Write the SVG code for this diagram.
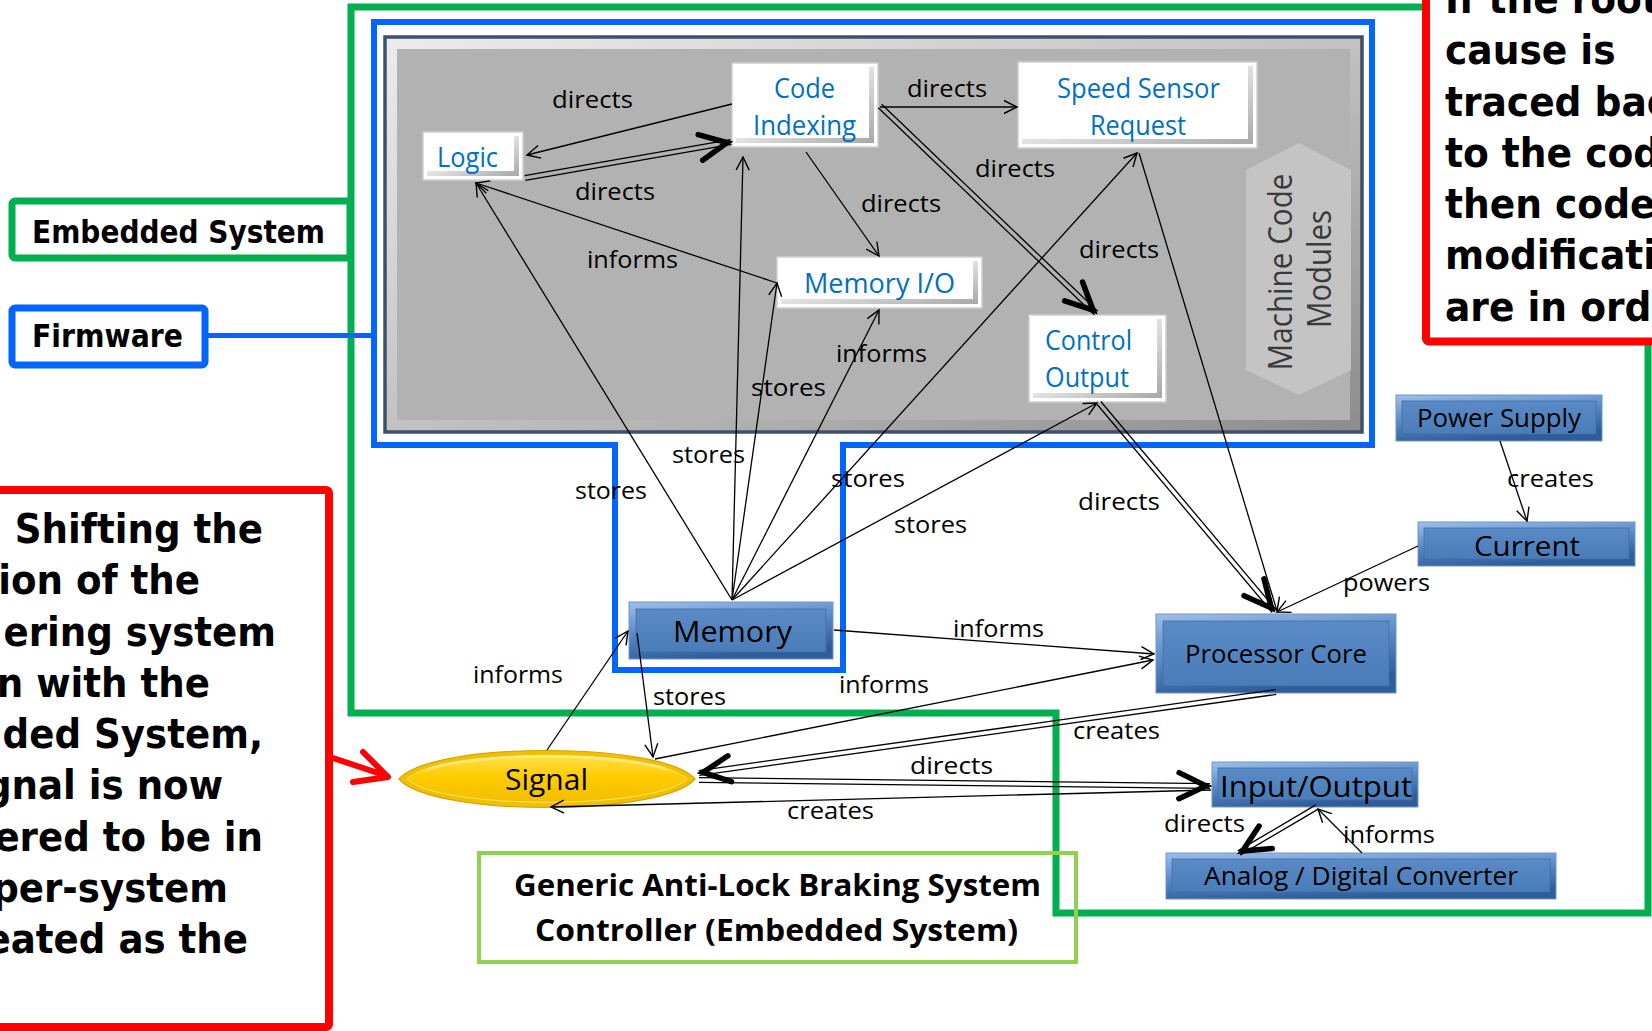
<svg xmlns="http://www.w3.org/2000/svg" width="1652" height="1031" viewBox="0 0 1652 1031">
<defs>
<style>
.lbl{font-family:'Open Sans',sans-serif;font-size:24px;fill:#000}
.wt{font-family:'Open Sans',sans-serif;font-size:27px;fill:#0070c0}
.bt{font-family:'Open Sans',sans-serif;fill:#000}
.ln{stroke:#000;stroke-width:1.3;fill:none}
.dl{stroke:#000;stroke-width:1.3;fill:none}
.axis{stroke:#000;stroke-opacity:0;fill:none}
.heavy{font-family:'DejaVu Sans',sans-serif;font-weight:bold;fill:#000}
.wframe{fill:#fff;stroke:#cfcfcf;stroke-width:1.5}
.bframe{fill:url(#bb);stroke:#7096c8;stroke-width:1}
.bface{fill:url(#bf);stroke:#416fa8;stroke-width:0.8}
</style>
<linearGradient id="wb" x1="0" y1="0" x2="1" y2="1">
<stop offset="0" stop-color="#ffffff"/><stop offset="0.4" stop-color="#ececec"/><stop offset="1" stop-color="#a8a8a8"/>
</linearGradient>
<linearGradient id="bb" x1="0" y1="0" x2="0.35" y2="1">
<stop offset="0" stop-color="#a0bfe8"/><stop offset="0.5" stop-color="#5b8bc8"/><stop offset="1" stop-color="#2f5d98"/>
</linearGradient>
<linearGradient id="bf" x1="0" y1="0" x2="0" y2="1">
<stop offset="0" stop-color="#5a8bc7"/><stop offset="1" stop-color="#4a7cb8"/>
</linearGradient>
<linearGradient id="pg" x1="0" y1="0" x2="1" y2="1">
<stop offset="0" stop-color="#ececec"/><stop offset="0.5" stop-color="#c2c2c2"/><stop offset="1" stop-color="#8c8c8c"/>
</linearGradient>
<linearGradient id="gold" x1="0" y1="0" x2="0" y2="1">
<stop offset="0" stop-color="#ffe04a"/><stop offset="0.45" stop-color="#ffcc00"/><stop offset="1" stop-color="#f2bd00"/>
</linearGradient>
<marker id="open" markerUnits="userSpaceOnUse" orient="auto" overflow="visible" markerWidth="1" markerHeight="1">
<path d="M-13,-6.5 L0,0 L-13,6.5" fill="none" stroke="#000" stroke-width="1.4"/>
</marker>
<marker id="bold" markerUnits="userSpaceOnUse" orient="auto" overflow="visible" markerWidth="1" markerHeight="1">
<path d="M-31,-13 L-4,0 L-31,13" fill="none" stroke="#000" stroke-width="5.5" stroke-linecap="round" stroke-linejoin="miter"/>
</marker>
</defs>

<rect x="0" y="0" width="1652" height="1031" fill="#fff"/>

<!-- system boundaries -->
<g id="embedded-system-boundary">
<polygon points="351,7 1648,7 1648,913 1056,913 1056,713 351,713" fill="none" stroke="#00b050" stroke-width="7"/>
<rect x="12" y="201" width="338" height="57" rx="3" fill="#fff" stroke="#00b050" stroke-width="7"/>
<text class="heavy" x="32" y="243" font-size="32" textLength="293" lengthAdjust="spacingAndGlyphs">Embedded System</text>
</g>

<g id="firmware-boundary">
<polygon points="374,22 1372,22 1372,445 843,445 843,670 615,670 615,445 374,445" fill="none" stroke="#0066ff" stroke-width="6"/>
<line x1="205" y1="335.5" x2="374" y2="335.5" stroke="#0066ff" stroke-width="5"/>
<rect x="12" y="308" width="193" height="57" rx="3" fill="#fff" stroke="#0066ff" stroke-width="7"/>
<text class="heavy" x="32" y="347" font-size="32" textLength="151" lengthAdjust="spacingAndGlyphs">Firmware</text>
</g>

<!-- machine code panel -->
<g id="machine-code-panel">
<rect x="385" y="37" width="977" height="395" fill="url(#pg)" stroke="#3f5169" stroke-width="3.5"/>
<rect x="397" y="49" width="953" height="371" fill="#b2b2b2"/>
<polygon points="1299,143 1351,170 1351,370 1299,395 1246,370 1246,170" fill="#c4c4c4"/>
<text class="bt" transform="translate(1292,272) rotate(-90)" text-anchor="middle" font-size="32" style="fill:#3a3a3a" textLength="197" lengthAdjust="spacingAndGlyphs">Machine Code</text>
<text class="bt" transform="translate(1331,269) rotate(-90)" text-anchor="middle" font-size="32" style="fill:#3a3a3a" textLength="118" lengthAdjust="spacingAndGlyphs">Modules</text>
</g>

<!-- white module nodes -->
<g id="logic">
<rect class="wframe" x="423" y="132" width="100" height="48"/>
<rect x="427" y="136" width="92" height="40" fill="url(#wb)"/>
<rect x="427" y="136" width="87" height="35" fill="#fff"/>
<text class="wt" x="437" y="167" textLength="61" lengthAdjust="spacingAndGlyphs">Logic</text>
</g>
<g id="code-indexing">
<rect class="wframe" x="732" y="63" width="146" height="84"/>
<rect x="736" y="67" width="138" height="76" fill="url(#wb)"/>
<rect x="736" y="67" width="133" height="71" fill="#fff"/>
<text class="wt" x="774" y="98" textLength="61" lengthAdjust="spacingAndGlyphs">Code</text>
<text class="wt" x="753" y="135" textLength="103" lengthAdjust="spacingAndGlyphs">Indexing</text>
</g>
<g id="speed-sensor-request">
<rect class="wframe" x="1018" y="62" width="239" height="86"/>
<rect x="1022" y="66" width="231" height="78" fill="url(#wb)"/>
<rect x="1022" y="66" width="226" height="73" fill="#fff"/>
<text class="wt" x="1057" y="98" textLength="163" lengthAdjust="spacingAndGlyphs">Speed Sensor</text>
<text class="wt" x="1090" y="135" textLength="96" lengthAdjust="spacingAndGlyphs">Request</text>
</g>
<g id="memory-io">
<rect class="wframe" x="777" y="257" width="205" height="51"/>
<rect x="781" y="261" width="197" height="43" fill="url(#wb)"/>
<rect x="781" y="261" width="192" height="38" fill="#fff"/>
<text class="wt" x="804" y="293" textLength="151" lengthAdjust="spacingAndGlyphs">Memory I/O</text>
</g>
<g id="control-output">
<rect class="wframe" x="1029" y="315" width="137" height="87"/>
<rect x="1033" y="319" width="129" height="79" fill="url(#wb)"/>
<rect x="1033" y="319" width="124" height="74" fill="#fff"/>
<text class="wt" x="1045" y="350" textLength="87" lengthAdjust="spacingAndGlyphs">Control</text>
<text class="wt" x="1045" y="387" textLength="84" lengthAdjust="spacingAndGlyphs">Output</text>
</g>

<!-- hardware nodes -->
<g id="memory">
<rect class="bframe" x="629" y="602" width="204" height="57"/>
<rect class="bface" x="636" y="609" width="190" height="43"/>
<text class="bt" x="673" y="642" font-size="30" textLength="119" lengthAdjust="spacingAndGlyphs">Memory</text>
</g>
<g id="processor-core">
<rect class="bframe" x="1156" y="614" width="240" height="79"/>
<rect class="bface" x="1163" y="621" width="226" height="65"/>
<text class="bt" x="1185" y="663" font-size="26" textLength="182" lengthAdjust="spacingAndGlyphs">Processor Core</text>
</g>
<g id="power-supply">
<rect class="bframe" x="1396" y="395" width="206" height="46"/>
<rect class="bface" x="1402" y="401" width="194" height="33"/>
<text class="bt" x="1417" y="427" font-size="25" textLength="164" lengthAdjust="spacingAndGlyphs">Power Supply</text>
</g>
<g id="current">
<rect class="bframe" x="1418" y="522" width="217" height="44"/>
<rect class="bface" x="1424" y="528" width="205" height="31"/>
<text class="bt" x="1474" y="556" font-size="28" textLength="106" lengthAdjust="spacingAndGlyphs">Current</text>
</g>
<g id="input-output">
<rect class="bframe" x="1212" y="762" width="206" height="45"/>
<rect class="bface" x="1218" y="768" width="194" height="32"/>
<text class="bt" x="1220" y="797" font-size="29" textLength="192" lengthAdjust="spacingAndGlyphs">Input/Output</text>
</g>
<g id="ad-converter">
<rect class="bframe" x="1166" y="853" width="390" height="46"/>
<rect class="bface" x="1172" y="859" width="378" height="33"/>
<text class="bt" x="1204" y="885" font-size="25" textLength="314" lengthAdjust="spacingAndGlyphs">Analog / Digital Converter</text>
</g>
<g id="signal">
<path d="M399,779 C432,741 662,741 695,779 C662,817 432,817 399,779 Z" fill="#f0bf00" stroke="#d6a400" stroke-width="1.2"/>
<path d="M407,779 C438,748 656,748 687,779 C656,810 438,810 407,779 Z" fill="url(#gold)" stroke="#ffe566" stroke-width="1"/>
<path d="M428,769 C480,752 614,752 666,769" fill="none" stroke="#fff3a6" stroke-width="3" opacity="0.55"/>
<text class="bt" x="505" y="790" font-size="30" textLength="83" lengthAdjust="spacingAndGlyphs">Signal</text>
</g>

<!-- connectors -->
<g id="connectors">
<path class="ln" d="M732,104 L527,155" marker-end="url(#open)"/>
<path class="ln" d="M880,107 L1017,107" marker-end="url(#open)"/>
<path class="ln" d="M806,152 L879,256" marker-end="url(#open)"/>
<path class="ln" d="M777,283 L476,183" marker-end="url(#open)"/>
<path class="ln" d="M732,600 L476,183" marker-end="url(#open)"/>
<path class="ln" d="M732,600 L743,157" marker-end="url(#open)"/>
<path class="ln" d="M732,600 L777,283" marker-end="url(#open)"/>
<path class="ln" d="M732,600 L879,310" marker-end="url(#open)"/>
<path class="ln" d="M732,600 L1137,153" marker-end="url(#open)"/>
<path class="ln" d="M732,600 L1097,403" marker-end="url(#open)"/>
<path class="ln" d="M1139,153 L1277,611" marker-end="url(#open)"/>
<path class="ln" d="M1500,441 L1527,521" marker-end="url(#open)"/>
<path class="ln" d="M1418,546 L1277,612" marker-end="url(#open)"/>
<path class="ln" d="M834,630 L1154,654" marker-end="url(#open)"/>
<path class="ln" d="M655,759 L1153,660" marker-end="url(#open)"/>
<path class="ln" d="M547,750 L628,631" marker-end="url(#open)"/>
<path class="ln" d="M637,633 L653,757" marker-end="url(#open)"/>
<path class="ln" d="M1211,790 L551,807" marker-end="url(#open)"/>
<path class="ln" d="M1362,853 L1318,809" marker-end="url(#open)"/>

<!-- double-line flows with heavy heads -->
<path class="dl" d="M525.4,180.4 L731.4,144.4 M524.6,175.6 L730.6,139.6"/>
<path class="axis" d="M525,178 L731,142" marker-end="url(#bold)"/>
<path class="dl" d="M878.3,107.7 L1094.3,314.7 M881.7,104.3 L1097.7,311.3"/>
<path class="axis" d="M880,106 L1096,313" marker-end="url(#bold)"/>
<path class="dl" d="M1097.2,404.5 L1272.2,612.5 M1100.8,401.5 L1275.8,609.5"/>
<path class="axis" d="M1099,403 L1274,611" marker-end="url(#bold)"/>
<path class="dl" d="M1275.7,689.6 L698.7,770.6 M1276.3,694.4 L699.3,775.4"/>
<path class="axis" d="M1276,692 L699,773" marker-end="url(#bold)"/>
<path class="dl" d="M699,782.4 L1210,788.4 M699,777.6 L1210,783.6"/>
<path class="axis" d="M699,780 L1210,786" marker-end="url(#bold)"/>
<path class="dl" d="M1315.8,804.9 L1237.8,850.9 M1318.2,809.1 L1240.2,855.1"/>
<path class="axis" d="M1317,807 L1239,853" marker-end="url(#bold)"/>

<text class="lbl" x="552" y="108" textLength="81" lengthAdjust="spacingAndGlyphs">directs</text>
<text class="lbl" x="575" y="200" textLength="80" lengthAdjust="spacingAndGlyphs">directs</text>
<text class="lbl" x="587" y="268" textLength="91" lengthAdjust="spacingAndGlyphs">informs</text>
<text class="lbl" x="907" y="97" textLength="80" lengthAdjust="spacingAndGlyphs">directs</text>
<text class="lbl" x="975" y="177" textLength="80" lengthAdjust="spacingAndGlyphs">directs</text>
<text class="lbl" x="861" y="212" textLength="80" lengthAdjust="spacingAndGlyphs">directs</text>
<text class="lbl" x="1079" y="258" textLength="80" lengthAdjust="spacingAndGlyphs">directs</text>
<text class="lbl" x="836" y="362" textLength="91" lengthAdjust="spacingAndGlyphs">informs</text>
<text class="lbl" x="751" y="396" textLength="75" lengthAdjust="spacingAndGlyphs">stores</text>
<text class="lbl" x="672" y="463" textLength="73" lengthAdjust="spacingAndGlyphs">stores</text>
<text class="lbl" x="575" y="499" textLength="72" lengthAdjust="spacingAndGlyphs">stores</text>
<text class="lbl" x="831" y="487" textLength="74" lengthAdjust="spacingAndGlyphs">stores</text>
<text class="lbl" x="894" y="533" textLength="73" lengthAdjust="spacingAndGlyphs">stores</text>
<text class="lbl" x="1078" y="510" textLength="82" lengthAdjust="spacingAndGlyphs">directs</text>
<text class="lbl" x="1507" y="487" textLength="87" lengthAdjust="spacingAndGlyphs">creates</text>
<text class="lbl" x="1343" y="591" textLength="87" lengthAdjust="spacingAndGlyphs">powers</text>
<text class="lbl" x="953" y="637" textLength="91" lengthAdjust="spacingAndGlyphs">informs</text>
<text class="lbl" x="839" y="693" textLength="90" lengthAdjust="spacingAndGlyphs">informs</text>
<text class="lbl" x="473" y="683" textLength="90" lengthAdjust="spacingAndGlyphs">informs</text>
<text class="lbl" x="653" y="705" textLength="73" lengthAdjust="spacingAndGlyphs">stores</text>
<text class="lbl" x="1073" y="739" textLength="87" lengthAdjust="spacingAndGlyphs">creates</text>
<text class="lbl" x="910" y="774" textLength="83" lengthAdjust="spacingAndGlyphs">directs</text>
<text class="lbl" x="787" y="819" textLength="87" lengthAdjust="spacingAndGlyphs">creates</text>
<text class="lbl" x="1164" y="832" textLength="81" lengthAdjust="spacingAndGlyphs">directs</text>
<text class="lbl" x="1343" y="843" textLength="92" lengthAdjust="spacingAndGlyphs">informs</text>
</g>

<!-- title box -->
<g id="title">
<rect x="479" y="853" width="597" height="109" fill="none" stroke="#92d050" stroke-width="4"/>
<text class="bt" x="514" y="896" font-size="31" font-weight="bold" textLength="527" lengthAdjust="spacingAndGlyphs">Generic Anti-Lock Braking System</text>
<text class="bt" x="535" y="941" font-size="31" font-weight="bold" textLength="483" lengthAdjust="spacingAndGlyphs">Controller (Embedded System)</text>
</g>

<!-- callout: boundary shift -->
<g id="callout-boundary">
<rect x="-10" y="490" width="339" height="537" rx="3" fill="#fff" stroke="#ff0000" stroke-width="8"/>
<g transform="scale(0.93 1)" class="heavy" font-size="40" text-anchor="end">
<text x="282.8" y="543">Shifting the</text>
<text x="215.1" y="594.3">ion of the</text>
<text x="296.8" y="645.6">ering system</text>
<text x="225.8" y="696.9">n with the</text>
<text x="282.8" y="748.2">lded System,</text>
<text x="239.8" y="799.5">gnal is now</text>
<text x="282.8" y="850.8">ered to be in</text>
<text x="245.2" y="902.1">per-system</text>
<text x="266.7" y="953.4">eated as the</text>
</g>
<path d="M333,758 L387,776" stroke="#ff0000" stroke-width="6" stroke-linecap="round" fill="none"/>
<path d="M363,752 L388,777 L353,782" stroke="#ff0000" stroke-width="6" stroke-linecap="round" stroke-linejoin="round" fill="none"/>
</g>

<!-- callout: root cause -->
<g id="callout-root-cause">
<rect x="1426" y="-10" width="240" height="351.5" rx="3" fill="#fff" stroke="#ff0000" stroke-width="8"/>
<g transform="translate(1445 0) scale(0.94 1)" class="heavy" font-size="40">
<text x="0" y="13">If the root</text>
<text x="0" y="64.3">cause is</text>
<text x="0" y="115.6">traced back</text>
<text x="0" y="166.9">to the code</text>
<text x="0" y="218.2">then code</text>
<text x="0" y="269.5">modifications</text>
<text x="0" y="320.8">are in order</text>
</g>
</g>
</svg>
